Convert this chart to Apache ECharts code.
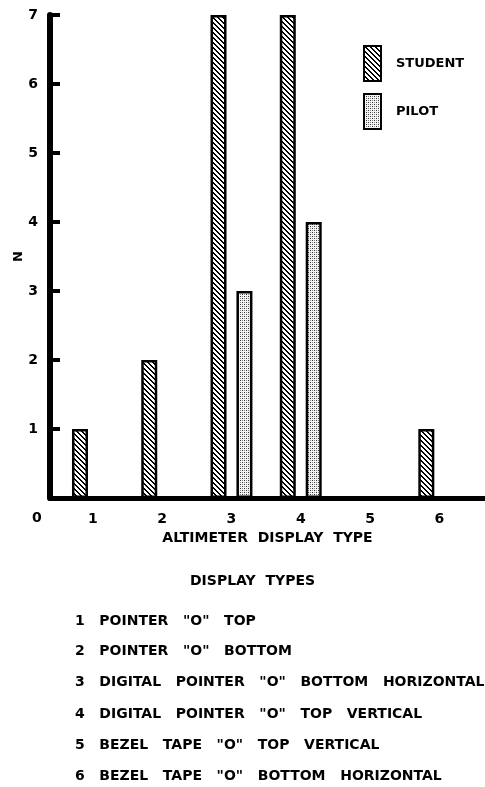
<!DOCTYPE html>
<html>
  <head>
    <meta charset="utf-8" />
    <script src="https://cdn.jsdelivr.net/npm/echarts@6.0.0/dist/echarts.min.js"></script>
    <style>
      html, body { margin: 0; padding: 0; background: #fff; }
    </style>
  </head>
  <body>
    <div id="main" style="width: 485px; height: 787px"></div>

    <script type="text/javascript">
      // display types on the x axis
      var displayTypes = [1, 2, 3, 4, 5, 6];
      // counts (N) per display type
      var studentCounts = [1, 2, 7, 7, 0, 1];
      var pilotCounts = [0, 0, 3, 4, 0, 0];

      var typeNames = [
        '1   POINTER   "O"   TOP',
        '2   POINTER   "O"   BOTTOM',
        '3   DIGITAL   POINTER   "O"   BOTTOM   HORIZONTAL',
        '4   DIGITAL   POINTER   "O"   TOP   VERTICAL',
        '5   BEZEL   TAPE   "O"   TOP   VERTICAL',
        '6   BEZEL   TAPE   "O"   BOTTOM   HORIZONTAL'
      ];

      var FONT = "DejaVu Sans";

      // fill patterns for the bars
      function hatch() {
        var n = 5;
        var c = document.createElement("canvas");
        c.width = n; c.height = n;
        var g = c.getContext("2d");
        g.fillStyle = "#fff"; g.fillRect(0, 0, n, n);
        g.fillStyle = "#000";
        for (var i = 0; i < n; i++) {
          g.fillRect(i, i, 1, 1);
          g.fillRect((i + 1) % n, i, 1, 1);
        }
        return c;
      }
      function stipple() {
        var c = document.createElement("canvas");
        c.width = 4; c.height = 4;
        var g = c.getContext("2d");
        g.fillStyle = "#f4f4f4"; g.fillRect(0, 0, 4, 4);
        g.fillStyle = "#333";
        g.fillRect(0, 0, 1, 1); g.fillRect(2, 2, 1, 1);
        g.fillStyle = "#888";
        g.fillRect(2, 0, 1, 1); g.fillRect(0, 2, 1, 1);
        return c;
      }

      var myChart = echarts.init(document.getElementById("main"));

      var texts = [{
        type: "text", left: 190, top: 574,
        style: { text: "DISPLAY  TYPES", font: "bold 14px " + FONT, fill: "#000" }
      }, {
        type: "text", left: 32, top: 511,
        style: { text: "0", font: "bold 14px " + FONT, fill: "#000" }
      }];
      var rowY = [622, 652, 683, 715, 746, 777];
      typeNames.forEach(function (t, i) {
        texts.push({
          type: "text", left: 75, top: rowY[i] - 8,
          style: { text: t, font: "bold 14px " + FONT, fill: "#000" }
        });
      });

      var option = {
        animation: false,
        backgroundColor: "#fff",
        grid: { left: 50, right: 0, top: 15, bottom: 289, outerBoundsMode: "none" },
        legend: {
          orient: "vertical",
          left: 363, top: 45,
          icon: "rect",
          itemWidth: 17, itemHeight: 35, itemGap: 11,
          padding: 0,
          textStyle: { fontFamily: FONT, fontWeight: "bold", fontSize: 13, color: "#000", padding: [0, 0, 0, 10] },
          data: ["STUDENT", "PILOT"]
        },
        xAxis: {
          type: "value",
          min: 0.38, max: 6.66,
          name: "ALTIMETER  DISPLAY  TYPE",
          nameLocation: "middle",
          nameGap: 26,
          nameTextStyle: { fontFamily: FONT, fontWeight: "bold", fontSize: 14, color: "#000" },
          axisLine: { lineStyle: { color: "#000", width: 5 } },
          axisTick: { show: false },
          splitLine: { show: false },
          axisLabel: {
            customValues: displayTypes,
            margin: 14,
            fontFamily: FONT, fontWeight: "bold", fontSize: 14, color: "#000"
          }
        },
        yAxis: {
          type: "value",
          min: 0, max: 7, interval: 1,
          name: "N",
          nameLocation: "middle",
          nameRotate: 90,
          nameGap: 25,
          nameMoveOverlap: false,
          nameTextStyle: { fontFamily: FONT, fontWeight: "bold", fontSize: 13, color: "#000" },
          axisLine: { show: true, lineStyle: { color: "#000", width: 6 } },
          axisTick: { show: true, inside: true, length: 10, lineStyle: { color: "#000", width: 4 } },
          splitLine: { show: false },
          axisLabel: {
            margin: 12,
            fontFamily: FONT, fontWeight: "bold", fontSize: 14, color: "#000",
            formatter: function (v) { return v === 0 ? "" : String(v); }
          }
        },
        series: [{
          name: "STUDENT",
          type: "bar",
          barWidth: 16,
          barGap: "62%",
          itemStyle: { color: { image: hatch(), repeat: "repeat" }, borderColor: "#000", borderWidth: 2.5 },
          data: displayTypes.map(function (d, i) { return [d, studentCounts[i]]; })
        }, {
          name: "PILOT",
          type: "bar",
          barWidth: 16,
          barGap: "62%",
          itemStyle: { color: { image: stipple(), repeat: "repeat" }, borderColor: "#000", borderWidth: 2.5 },
          data: displayTypes.map(function (d, i) { return [d, pilotCounts[i]]; })
        }],
        graphic: texts
      };

      myChart.setOption(option);
    </script>
  </body>
</html>
